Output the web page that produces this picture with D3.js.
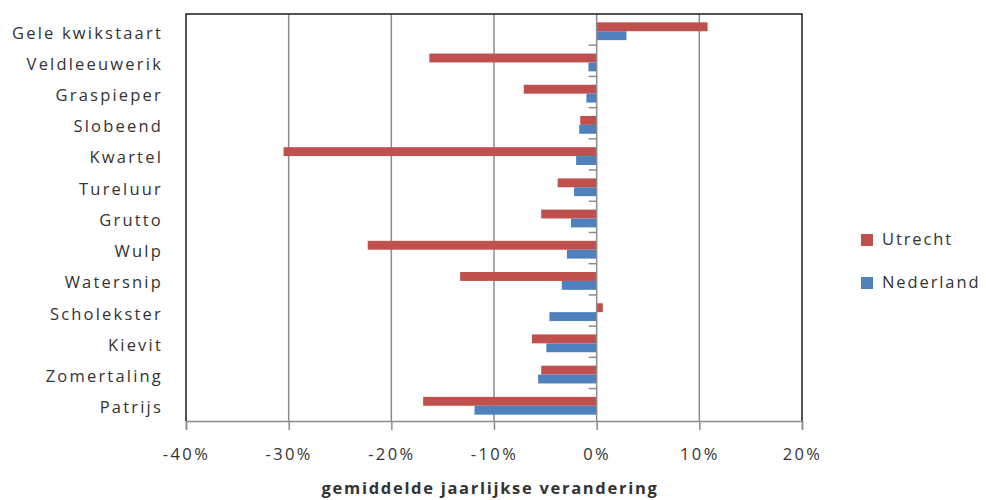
<!DOCTYPE html>
<html>
<head>
<meta charset="utf-8">
<script src="https://cdn.jsdelivr.net/npm/d3@7/dist/d3.min.js"></script>
<style>
  html, body { margin: 0; padding: 0; background: #fff; }
  svg { display: block; }
  text { font-family: "Open Sans", "Noto Sans", sans-serif; fill: #333; }
</style>
</head>
<body>
<svg id="chart" width="986" height="500"></svg>
<script>
// Weidevogels: gemiddelde jaarlijkse verandering per soort
const species = ["Gele kwikstaart", "Veldleeuwerik", "Graspieper", "Slobeend", "Kwartel",
  "Tureluur", "Grutto", "Wulp", "Watersnip", "Scholekster", "Kievit", "Zomertaling", "Patrijs"];
const seriesNames = ["Utrecht", "Nederland"];
const utrecht   = [10.8, -16.3, -7.1, -1.6, -30.5, -3.8, -5.4, -22.3, -13.3, 0.6, -6.3, -5.4, -16.9];
const nederland = [2.9, -0.8, -1.0, -1.7, -2.0, -2.2, -2.5, -2.9, -3.4, -4.6, -4.9, -5.7, -11.9];
const xTicks = [-40, -30, -20, -10, 0, 10, 20];
const colors = ["#C0504D", "#4F81BD"];
const axisTitle = "gemiddelde jaarlijkse  verandering";

const svg = d3.select("#chart");
const plot = { left: 186, right: 802, top: 14, bottom: 421 };

const x = d3.scaleLinear().domain([-40, 20]).range([plot.left, plot.right]);
const y = d3.scaleBand().domain(species).range([plot.top, plot.bottom])
  .paddingInner(0.43).paddingOuter(0.235);
const ySub = d3.scaleBand().domain(seriesNames).range([0, y.bandwidth()]);

// vertical gridlines
svg.append("g").selectAll("line")
  .data(xTicks.filter(t => t > -40 && t < 20 && t !== 0))
  .join("line")
  .attr("x1", d => x(d)).attr("x2", d => x(d))
  .attr("y1", plot.top).attr("y2", plot.bottom)
  .attr("stroke", "#8c8c8c").attr("stroke-width", 1.5);

// bars
const rows = species.map((s, i) => ({ s, vals: [utrecht[i], nederland[i]] }));
const groups = svg.append("g").selectAll("g").data(rows).join("g")
  .attr("transform", d => `translate(0,${y(d.s) + 1})`);
groups.selectAll("rect")
  .data(d => d.vals.map((v, k) => ({ v, name: seriesNames[k], k })))
  .join("rect")
  .attr("x", d => x(Math.min(0, d.v)))
  .attr("width", d => Math.abs(x(d.v) - x(0)))
  .attr("y", d => ySub(d.name))
  .attr("height", ySub.bandwidth())
  .attr("fill", d => colors[d.k]);

// category axis at zero with ticks between categories
const boundaries = d3.range(species.length + 1).map(i => plot.top + i * y.step());
svg.append("line")
  .attr("x1", x(0)).attr("x2", x(0)).attr("y1", plot.top).attr("y2", plot.bottom)
  .attr("stroke", "#8c8c8c").attr("stroke-width", 1.5);
svg.append("g").selectAll("line").data(boundaries.slice(1, -1)).join("line")
  .attr("x1", x(0) - 8).attr("x2", x(0))
  .attr("y1", d => d).attr("y2", d => d)
  .attr("stroke", "#8c8c8c").attr("stroke-width", 1.5);

// plot frame (top, left, right)
svg.append("path")
  .attr("d", `M${plot.left},${plot.bottom}V${plot.top}H${plot.right}V${plot.bottom}`)
  .attr("fill", "none").attr("stroke", "#1a1a1a").attr("stroke-width", 1.5);

// value axis
const xAxis = svg.append("g").attr("transform", `translate(0,${plot.bottom})`)
  .call(d3.axisBottom(x).tickValues(xTicks).tickFormat(d => d + "%").tickSize(9).tickPadding(18));
xAxis.select(".domain").attr("stroke", "#8c8c8c").attr("stroke-width", 1.5);
xAxis.selectAll(".tick line").attr("stroke", "#8c8c8c").attr("stroke-width", 1.5);
xAxis.selectAll(".tick text").attr("font-size", 16.5).attr("font-family", null)
  .attr("letter-spacing", 2.4).style("fill", "#333");

// category labels
svg.append("g").selectAll("text").data(species).join("text")
  .attr("x", 163)
  .attr("y", d => y(d) + y.bandwidth() / 2 + 4)
  .attr("text-anchor", "end")
  .attr("dominant-baseline", "middle")
  .attr("font-size", 16.5)
  .attr("letter-spacing", 2.2)
  .text(d => d);

// axis title
svg.append("text")
  .attr("x", 490).attr("y", 494)
  .attr("text-anchor", "middle")
  .attr("font-size", 16.5).attr("font-weight", "bold")
  .attr("letter-spacing", 1.7)
  .text(axisTitle);

// legend
const legend = svg.append("g").selectAll("g").data(seriesNames).join("g")
  .attr("transform", (d, i) => `translate(861,${240 + i * 43})`);
legend.append("rect").attr("x", 0).attr("y", -6).attr("width", 12).attr("height", 12)
  .attr("fill", (d, i) => colors[i]);
legend.append("text").attr("x", 21).attr("y", 1)
  .attr("dominant-baseline", "middle").attr("font-size", 16.5).attr("letter-spacing", 1.9)
  .text(d => d);
</script>
</body>
</html>
